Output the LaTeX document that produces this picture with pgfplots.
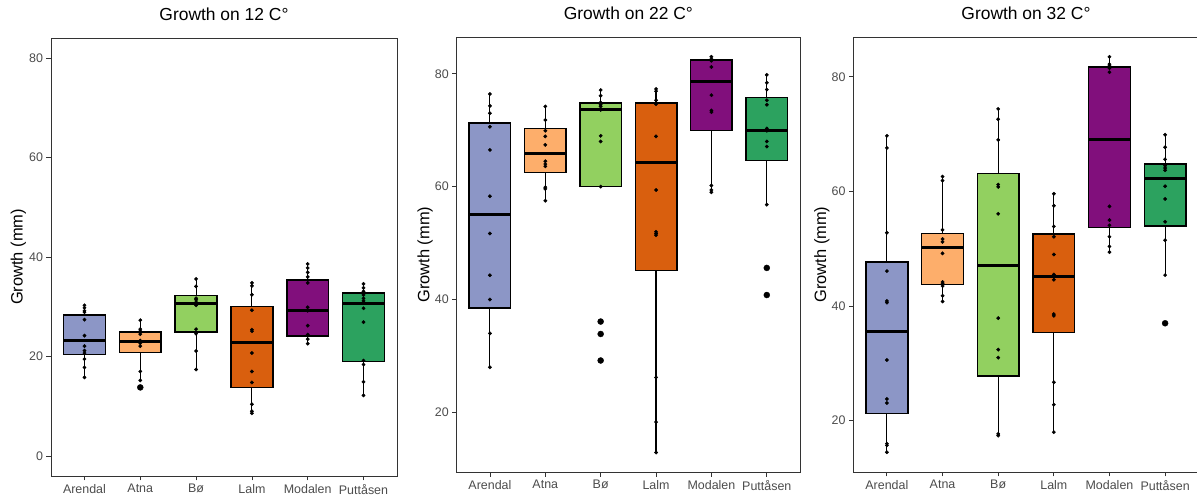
\documentclass[border=0pt]{standalone}
\usepackage{fontspec}
\setmainfont{Liberation Sans}
\usepackage{pgfplots}
\pgfplotsset{compat=1.18}
\definecolor{cA}{HTML}{8C96C6}
\definecolor{cB}{HTML}{FDAE6B}
\definecolor{cC}{HTML}{92D060}
\definecolor{cD}{HTML}{D95F0E}
\definecolor{cE}{HTML}{810F7C}
\definecolor{cF}{HTML}{2CA25F}
% #1 pos, #2 left, #3 right, #4 lower whisker, #5 Q1, #6 median, #7 Q3, #8 upper whisker, #9 colour
\newcommand{\bx}[9]{%
 \addplot[black, line width=1.1bp] coordinates {(#1,#4)(#1,#5)};
 \addplot[black, line width=1.1bp] coordinates {(#1,#7)(#1,#8)};
 \addplot[fill=#9, draw=black, line width=1.5bp] coordinates {(#2,#5)(#3,#5)(#3,#7)(#2,#7)} -- cycle;
 \addplot[black, line width=3bp] coordinates {(#2,#6)(#3,#6)};
}
\pgfplotsset{
 panel/.style={scale only axis, xmin=0.4, xmax=6.6, xtick={1,...,6},
  xticklabels={Arendal,Atna,Bø,Lalm,Modalen,Puttåsen},
  tick pos=left, tick align=outside, major tick length=4.5bp,
  tick style={color=black!80, line width=0.8bp},
  axis line style={black!80, line width=0.8bp},
  ticklabel style={font=\fontsize{12.5}{14}\selectfont, text=black!70},
  /pgf/number format/assume math mode=true,
  title style={at={(0.5,1)}, anchor=base, yshift=12bp, font=\fontsize{17.5}{20}\selectfont},
  ylabel={Growth (mm)},
  ylabel style={font=\fontsize{16.5}{19}\selectfont},
  clip=false},
 pts/.style={only marks, mark=*, mark size=1.7bp, black},
 outl/.style={only marks, mark=*, mark size=3bp, black}
}
\begin{document}
\begin{tikzpicture}
\useasboundingbox (0,0) rectangle (1197bp,499bp);
% Panel 1
\begin{axis}[panel, at={(51bp,23bp)}, anchor=south west, width=346bp, height=438bp,
 ymin=-4, ymax=84, ytick={0,20,40,60,80}, title={Growth on 12 C°},
 every axis y label/.append style={at={(axis description cs:-0.094,0.5)}, anchor=center}]
\bx{1}{0.625}{1.375}{15.8}{20.4}{23.3}{28.3}{30.3}{cA}
\bx{2}{1.625}{2.375}{15.2}{20.85}{23.0}{24.9}{27.3}{cB}
\bx{3}{2.625}{3.375}{17.4}{24.9}{30.6}{32.3}{35.6}{cC}
\bx{4}{3.625}{4.375}{8.6}{13.8}{22.9}{30.1}{34.8}{cD}
\bx{5}{4.625}{5.375}{22.6}{24.1}{29.3}{35.4}{38.6}{cE}
\bx{6}{5.625}{6.375}{12.2}{19.0}{30.7}{32.8}{34.6}{cF}
\addplot[outl] coordinates {(2,13.8)};
\addplot[pts] coordinates {
(1,30.3)(1,29.8)(1,29.2)(1,28.9)(1,27.4)(1,24.2)(1,22.1)(1,21.2)(1,20.7)(1,19.5)(1,17.8)(1,15.8)
(2,27.3)(2,25.5)(2,25.1)(2,24.5)(2,23.2)(2,22.7)(2,22.1)(2,17.0)(2,15.2)(2,13.8)
(3,35.6)(3,34.1)(3,31.7)(3,31.4)(3,30.9)(3,30.3)(3,25.5)(3,24.6)(3,21.1)(3,17.4)
(4,34.8)(4,34.2)(4,32.4)(4,29.3)(4,25.4)(4,25.1)(4,20.7)(4,17.0)(4,14.8)(4,10.4)(4,9.0)(4,8.6)
(5,38.6)(5,37.8)(5,36.9)(5,36.0)(5,34.8)(5,29.9)(5,29.2)(5,26.2)(5,24.4)(5,23.5)(5,22.6)
(6,34.6)(6,33.8)(6,33.1)(6,32.4)(6,31.7)(6,31.2)(6,29.7)(6,26.9)(6,19.2)(6,18.4)(6,14.9)(6,12.2)
};
\end{axis}
% Panel 2
\begin{axis}[panel, at={(456.7bp,27bp)}, anchor=south west, width=343.3bp, height=434.7bp,
 ymin=9.45, ymax=86.45, ytick={20,40,60,80}, title={Growth on 22 C°},
 every axis y label/.append style={at={(axis description cs:-0.0923,0.5)}, anchor=center}]
\bx{1}{0.625}{1.375}{28.0}{38.5}{55.0}{71.3}{76.4}{cA}
\bx{2}{1.625}{2.375}{57.5}{62.5}{65.9}{70.3}{74.2}{cB}
\bx{3}{2.625}{3.375}{60.0}{60.0}{73.6}{74.8}{77.1}{cC}
\bx{4}{3.625}{4.375}{12.9}{45.1}{64.2}{74.8}{77.3}{cD}
\bx{5}{4.625}{5.375}{59.0}{69.9}{78.7}{82.4}{83.0}{cE}
\bx{6}{5.625}{6.375}{56.8}{64.6}{70.0}{75.8}{79.8}{cF}
\addplot[outl] coordinates {(3,36.1)(3,33.9)(3,29.2)(6,45.6)(6,40.8)};
\addplot[pts] coordinates {
(1,76.4)(1,74.3)(1,73.0)(1,70.6)(1,66.5)(1,58.3)(1,51.7)(1,44.3)(1,40.0)(1,34.0)(1,28.0)
(2,74.2)(2,71.8)(2,69.9)(2,68.9)(2,67.4)(2,64.5)(2,64.0)(2,63.6)(2,59.9)(2,59.6)(2,57.5)
(3,77.1)(3,76.1)(3,74.9)(3,74.5)(3,74.2)(3,73.6)(3,69.0)(3,68.0)(3,60.0)(3,36.1)(3,33.9)(3,29.2)
(4,77.3)(4,76.9)(4,75.3)(4,74.6)(4,68.9)(4,59.4)(4,52.0)(4,51.7)(4,51.4)(4,26.2)(4,18.3)(4,12.9)
(5,83.0)(5,82.6)(5,82.3)(5,81.2)(5,76.2)(5,73.5)(5,73.2)(5,60.2)(5,59.4)(5,59.0)
(6,79.8)(6,78.4)(6,77.2)(6,75.3)(6,74.5)(6,70.3)(6,69.9)(6,68.0)(6,67.1)(6,56.8)(6,45.6)(6,40.8)
};
\end{axis}
% Panel 3
\begin{axis}[panel, at={(853.5bp,27bp)}, anchor=south west, width=345bp, height=435bp,
 ymin=11.05, ymax=86.95, ytick={20,40,60,80}, title={Growth on 32 C°},
 every axis y label/.append style={at={(axis description cs:-0.0916,0.5)}, anchor=center}]
\bx{1}{0.625}{1.375}{14.5}{21.3}{35.6}{47.7}{69.7}{cA}
\bx{2}{1.625}{2.375}{40.8}{43.8}{50.3}{52.7}{62.6}{cB}
\bx{3}{2.625}{3.375}{17.4}{27.8}{47.0}{63.1}{74.4}{cC}
\bx{4}{3.625}{4.375}{18.0}{35.4}{45.2}{52.6}{59.6}{cD}
\bx{5}{4.625}{5.375}{49.4}{53.7}{69.1}{81.7}{83.5}{cE}
\bx{6}{5.625}{6.375}{45.4}{54.0}{62.3}{64.8}{69.9}{cF}
\addplot[outl] coordinates {(6,37.0)};
\addplot[pts] coordinates {
(1,69.7)(1,67.6)(1,52.8)(1,46.1)(1,40.9)(1,40.6)(1,30.6)(1,23.8)(1,23.1)(1,16.0)(1,15.7)(1,14.5)
(2,62.6)(2,61.9)(2,53.3)(2,51.7)(2,51.2)(2,49.2)(2,44.2)(2,43.9)(2,43.5)(2,41.8)(2,40.8)
(3,74.4)(3,72.6)(3,69.0)(3,61.2)(3,60.8)(3,56.1)(3,37.9)(3,32.4)(3,31.0)(3,17.7)(3,17.4)
(4,59.6)(4,57.5)(4,53.9)(4,52.1)(4,49.0)(4,45.5)(4,45.1)(4,44.6)(4,38.6)(4,38.3)(4,26.7)(4,22.8)(4,18.0)
(5,83.5)(5,82.2)(5,81.9)(5,81.5)(5,80.8)(5,57.4)(5,55.0)(5,54.1)(5,52.1)(5,50.4)(5,49.4)
(6,69.9)(6,67.7)(6,65.6)(6,64.5)(6,64.1)(6,63.7)(6,60.9)(6,58.7)(6,54.7)(6,51.5)(6,45.4)(6,37.0)
};
\end{axis}
\end{tikzpicture}
\end{document}
